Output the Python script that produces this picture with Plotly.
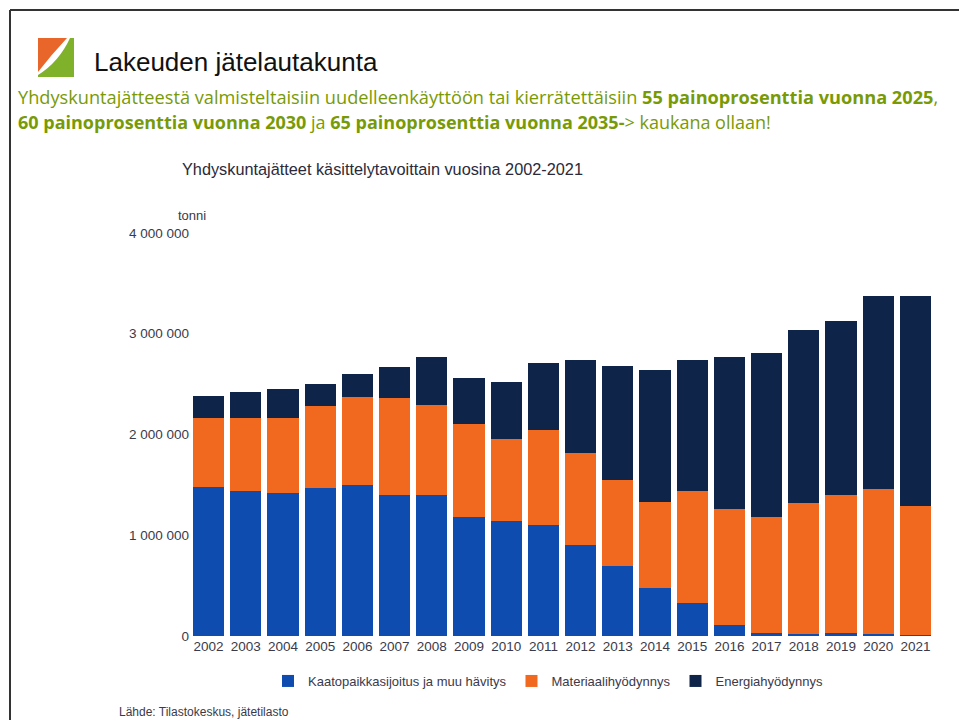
import plotly.graph_objects as go

years = [str(y) for y in range(2002, 2022)]
kaatopaikka = [1480000, 1443000, 1420000, 1470000, 1502000, 1403000, 1403000, 1181000, 1137000, 1098000,
               899000, 690000, 475000, 332000, 109000, 30000, 20000, 30000, 20000, 10000]
materiaali = [686000, 723000, 739000, 812000, 873000, 962000, 889000, 919000, 823000, 945000,
              919000, 862000, 852000, 1104000, 1152000, 1151000, 1300000, 1366000, 1440000, 1277000]
energia = [215000, 259000, 289000, 222000, 222000, 305000, 474000, 457000, 560000, 663000,
           918000, 1128000, 1310000, 1300000, 1508000, 1632000, 1718000, 1731000, 1916000, 2089000]
series_names = ["Kaatopaikkasijoitus ja muu hävitys", "Materiaalihyödynnys", "Energiahyödynnys"]
series_colors = ["#0f4cb0", "#f0691e", "#0e2449"]
ytick_vals = [0, 1000000, 2000000, 3000000, 4000000]
ytick_text = ["0", "1 000 000", "2 000 000", "3 000 000", "4 000 000"]

W, H = 959, 720
L, R, T, B = 190, 934, 233, 636


def X(p):
    return (p - L) / (R - L)


def Y(p):
    return (B - p) / (B - T)


fig = go.Figure()
for name, vals, col in zip(series_names, [kaatopaikka, materiaali, energia], series_colors):
    fig.add_trace(go.Bar(x=years, y=vals, name=name, marker=dict(color=col, line=dict(width=0))))

txt = "#3a3a4a"
fig.update_layout(
    width=W, height=H,
    margin=dict(l=L, r=W - R, t=T, b=H - B, pad=0),
    barmode="stack", bargap=0.16,
    paper_bgcolor="white", plot_bgcolor="white",
    font=dict(family="Liberation Sans, Arial, sans-serif", color=txt, size=13),
    xaxis=dict(showgrid=False, showline=False, ticks="", tickfont=dict(size=13.5, color=txt)),
    yaxis=dict(range=[0, 4000000], tickvals=ytick_vals, ticktext=ytick_text, showgrid=False,
               zeroline=False, showline=False, ticks="", tickfont=dict(size=13.5, color=txt)),
    legend=dict(orientation="h", x=X(548), y=Y(681), xanchor="center", yanchor="middle",
                font=dict(size=13, color=txt), traceorder="normal", itemwidth=30),
    showlegend=True,
)

annos = [
    dict(x=X(92), y=Y(62), text="Lakeuden jätelautakunta", xanchor="left", yanchor="middle",
         font=dict(size=26, color="#111111", family="Liberation Sans, Arial")),
    dict(x=X(16), y=Y(97), xanchor="left", yanchor="middle",
         text="Yhdyskuntajätteestä valmisteltaisiin uudelleenkäyttöön tai kierrätettäisiin <b>55 painoprosenttia vuonna 2025</b>,",
         font=dict(size=18.2, color="#789a06", family="Open Sans, Noto Sans")),
    dict(x=X(16), y=Y(122), xanchor="left", yanchor="middle",
         text="<b>60 painoprosenttia vuonna 2030</b> ja <b>65 painoprosenttia vuonna 2035-</b>> kaukana ollaan!",
         font=dict(size=18, color="#789a06", family="Open Sans, Noto Sans")),
    dict(x=X(382), y=Y(169), text="Yhdyskuntajätteet käsittelytavoittain vuosina 2002-2021",
         xanchor="center", yanchor="middle", font=dict(size=16.3, color="#2a2a3a")),
    dict(x=X(208), y=Y(216), text="tonni", xanchor="right", yanchor="middle", font=dict(size=13, color=txt)),
    dict(x=X(117), y=Y(712), text="Lähde: Tilastokeskus, jätetilasto", xanchor="left", yanchor="middle",
         font=dict(size=12, color=txt)),
]
for a in annos:
    a.update(xref="paper", yref="paper", showarrow=False)
    fig.add_annotation(**a)

orange_logo = "M {} {} L {} {} Q {} {} {} {} Z".format(X(38), Y(38), X(67), Y(38), X(52), Y(54), X(38), Y(72))
green_logo = "M {} {} L {} {} L {} {} L {} {} L {} {} Q {} {} {} {} Z".format(
    X(70), Y(38), X(74), Y(38), X(74), Y(77), X(38), Y(77), X(38), Y(75), X(59), Y(62), X(70), Y(38))
fig.add_shape(type="path", path=orange_logo, xref="paper", yref="paper", fillcolor="#e8662a", line=dict(width=0))
fig.add_shape(type="path", path=green_logo, xref="paper", yref="paper", fillcolor="#7fb12b", line=dict(width=0))
fig.add_shape(type="line", xref="paper", yref="paper", x0=X(10), x1=X(959), y0=Y(10), y1=Y(10),
              line=dict(color="#333333", width=2))
fig.add_shape(type="line", xref="paper", yref="paper", x0=X(10), x1=X(10), y0=Y(10), y1=Y(720),
              line=dict(color="#333333", width=2))

fig.write_html("out.html", config={"displayModeBar": False},
               post_script="document.body.style.margin='0';document.body.style.overflow='hidden';")
